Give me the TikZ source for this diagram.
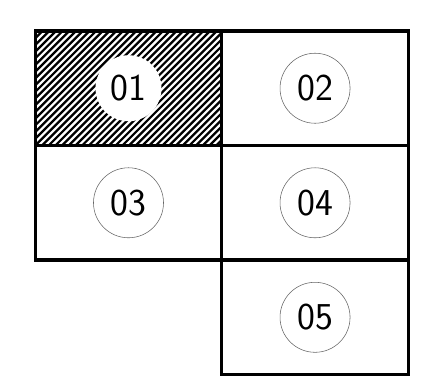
\documentclass[tikz,border=0pt]{standalone}
\usepackage{tikz}
\usetikzlibrary{positioning}

\begin{document}
\begin{tikzpicture}[
        x=0.025cm, y=-0.025cm,
        node distance=0pt,
        cell/.style={draw=black, line width=2.3pt, outer sep=0pt, minimum width=4.6625cm, minimum height=2.8625cm, inner sep=0pt},
        hatched/.style={path picture={
            \foreach \k in {-18,...,29}
              \draw[line width=1.6pt] ([xshift=\k*0.1675cm]path picture bounding box.south west) -- ++(3cm,3cm);
          }},
        tag/.style={circle, draw=black!60, line width=0.4pt, minimum size=1.75cm, inner sep=0pt, font=\sffamily\fontsize{27}{27}\selectfont},
        tagwhite/.style={tag, draw=none, fill=white, minimum size=1.65cm}
      ]
        \useasboundingbox (0,0) rectangle (434,379);
        \node[cell, hatched] (c01) at (128.5,88.25) {};
        \node[cell, right=of c01] (c02) {};
        \node[cell, below=of c01] (c03) {};
        \node[cell, right=of c03] (c04) {};
        \node[cell, below=of c04] (c05) {};
        \node[tagwhite] (t01) at (c01) {01};
        \node[tag] (t02) at (c02) {02};
        \node[tag] (t03) at (c03) {03};
        \node[tag] (t04) at (c04) {04};
        \node[tag] (t05) at (c05) {05};
      \end{tikzpicture}
\end{document}
